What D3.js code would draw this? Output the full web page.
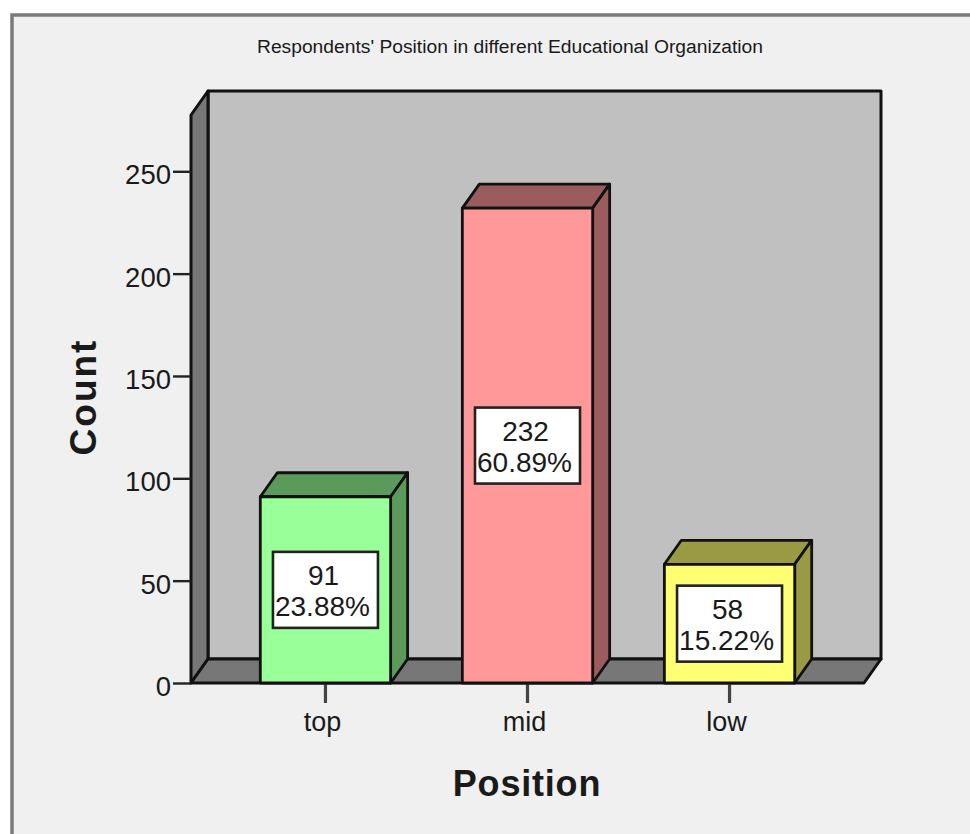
<!DOCTYPE html>
<html>
<head>
<meta charset="utf-8">
<script src="https://cdn.jsdelivr.net/npm/d3@7/dist/d3.min.js"></script>
<style>
  html, body { margin: 0; padding: 0; background: #fff; }
  svg { display: block; }
  text { font-family: "Liberation Sans", Arial, sans-serif; fill: #1a1a1a; }
</style>
</head>
<body>
<svg id="chart" width="970" height="834"></svg>
<script>
// Survey counts by respondent position
const categories = ["top", "mid", "low"];
const counts = [91, 232, 58];
const percents = ["23.88%", "60.89%", "15.22%"];
const frontColors = ["#99ff99", "#ff9999", "#ffff73"];
const sideColors = ["#5c9a5c", "#9a5c5c", "#9a9a45"];
const yTicks = [0, 50, 100, 150, 200, 250];

const svg = d3.select("#chart");
const ink = "#111";
const sans = '"Liberation Sans", Arial, sans-serif';

// Panel
svg.append("rect").attr("x", 12).attr("y", 15).attr("width", 970).attr("height", 840)
  .attr("fill", "#f0f0f0").attr("stroke", "#7a7a7a").attr("stroke-width", 3.5);

// Scales for the front plane of the 3D box
const y = d3.scaleLinear().domain([0, 277.5]).range([683, 115]);
const x = d3.scaleBand().domain(categories).range([191, 864]).paddingInner(0.355).paddingOuter(0.343);
const depthX = 17, depthY = -24;
const [x0, x1] = x.range();
const [yBase, yTop] = y.range();
const poly = pts => pts.map(p => p.join(",")).join(" ");

const box = svg.append("g").attr("stroke", ink).attr("stroke-width", 3).attr("stroke-linejoin", "round");
// Back wall
box.append("rect")
  .attr("x", x0 + depthX).attr("y", yTop + depthY)
  .attr("width", x1 - x0).attr("height", yBase - yTop)
  .attr("fill", "#c0c0c0");
// Left wall
box.append("polygon")
  .attr("points", poly([[x0, yBase], [x0, yTop], [x0 + depthX, yTop + depthY], [x0 + depthX, yBase + depthY]]))
  .attr("fill", "#777777");
// Floor
box.append("polygon")
  .attr("points", poly([[x0, yBase], [x0 + depthX, yBase + depthY], [x1 + depthX, yBase + depthY], [x1, yBase]]))
  .attr("fill", "#777777");

// Value axis
const yAxis = d3.axisLeft(y).tickValues(yTicks).tickSize(18).tickPadding(2).tickFormat(d3.format("d"));
const yG = svg.append("g").attr("transform", `translate(${x0},0)`).call(yAxis);
yG.select(".domain").remove();
yG.selectAll("line").attr("stroke", "#222").attr("stroke-width", 2.4);
yG.selectAll("text").attr("font-size", 27.5).attr("dy", "0.45em").attr("fill", "#1a1a1a").style("font-family", sans);

// Category axis
const xAxis = d3.axisBottom(x).tickSize(20).tickPadding(9);
const xG = svg.append("g").attr("transform", `translate(0,${yBase})`).call(xAxis);
xG.select(".domain").remove();
xG.selectAll("line").attr("stroke", "#444").attr("stroke-width", 3.2);
xG.selectAll("text").attr("font-size", 27).attr("x", -3).attr("fill", "#1a1a1a").style("font-family", sans);

// Bars
const bars = svg.append("g").selectAll("g").data(categories).join("g")
  .attr("stroke", ink).attr("stroke-width", 2.8).attr("stroke-linejoin", "round");
const w = x.bandwidth();
bars.append("polygon")
  .attr("fill", (d, i) => sideColors[i])
  .attr("points", (d, i) => {
    const l = x(d), r = l + w, t = y(counts[i]);
    return poly([[l, t], [l + depthX, t + depthY], [r + depthX, t + depthY], [r, t]]);
  });
bars.append("polygon")
  .attr("fill", (d, i) => sideColors[i])
  .attr("points", (d, i) => {
    const r = x(d) + w, t = y(counts[i]);
    return poly([[r, t], [r + depthX, t + depthY], [r + depthX, yBase + depthY], [r, yBase]]);
  });
bars.append("rect")
  .attr("x", d => x(d)).attr("width", w)
  .attr("y", (d, i) => y(counts[i]))
  .attr("height", (d, i) => yBase - y(counts[i]))
  .attr("fill", (d, i) => frontColors[i]);

// Value labels, centred on each bar's front face
const labelW = 105, labelH = 76;
const labels = svg.append("g").selectAll("g").data(categories).join("g")
  .attr("transform", (d, i) => `translate(${x(d) + w / 2},${(y(counts[i]) + yBase) / 2})`);
labels.append("rect")
  .attr("x", -labelW / 2).attr("y", -labelH / 2)
  .attr("width", labelW).attr("height", labelH)
  .attr("fill", "#fff").attr("stroke", "#222").attr("stroke-width", 2.6);
labels.append("text").attr("text-anchor", "middle").attr("x", -2).attr("y", -5).attr("font-size", 28)
  .text((d, i) => counts[i]);
labels.append("text").attr("text-anchor", "middle").attr("x", -3).attr("y", 26).attr("font-size", 28)
  .text((d, i) => percents[i]);

// Titles
svg.append("text").attr("x", 510).attr("y", 53).attr("text-anchor", "middle")
  .attr("font-size", 18).attr("textLength", 506).attr("lengthAdjust", "spacingAndGlyphs")
  .attr("fill", "#333").text("Respondents' Position in different Educational Organization");
svg.append("text").attr("x", 527).attr("y", 796).attr("text-anchor", "middle")
  .attr("font-size", 36).attr("font-weight", "bold").attr("letter-spacing", 0.8).text("Position");
svg.append("text").attr("transform", "translate(96,397) rotate(-90)").attr("text-anchor", "middle")
  .attr("font-size", 37).attr("font-weight", "bold").attr("letter-spacing", 2).text("Count");
</script>
</body>
</html>
